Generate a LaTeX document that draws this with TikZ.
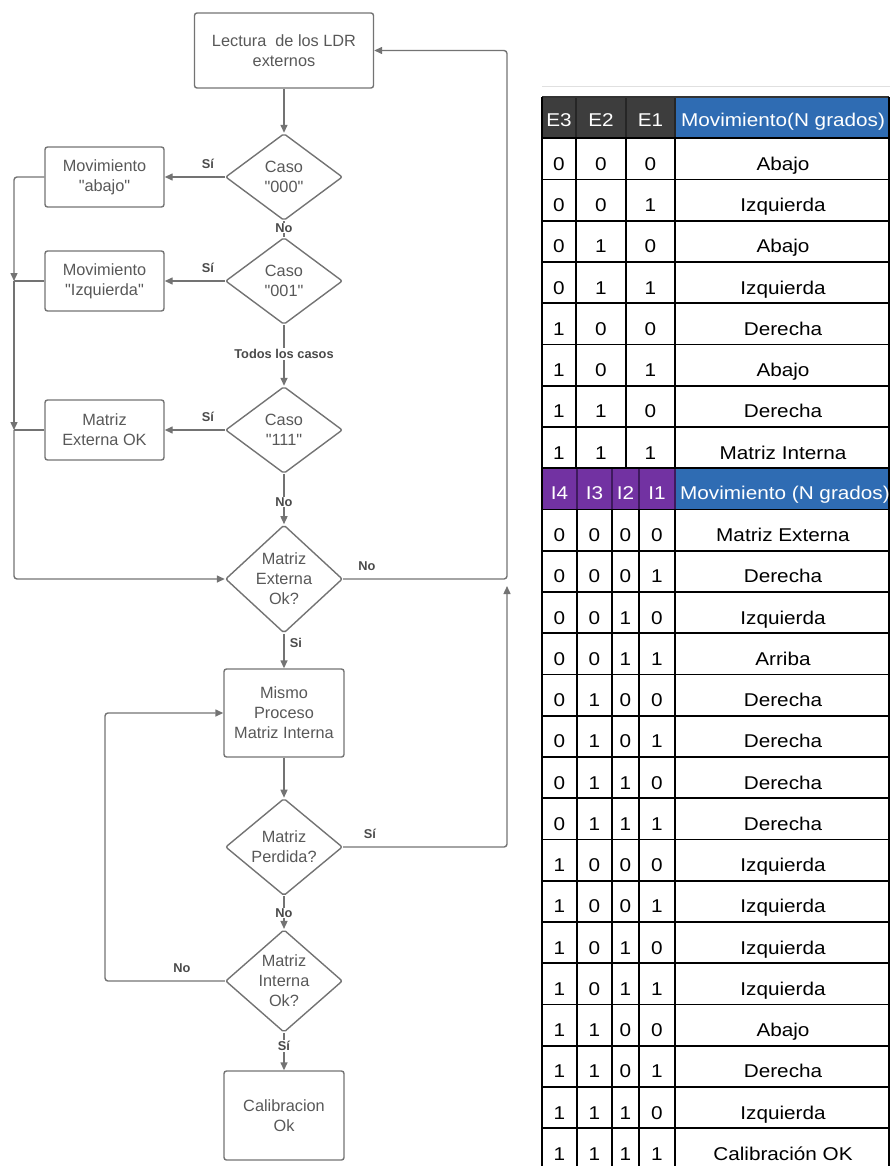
\documentclass[tikz,border=0pt]{standalone}
\usepackage{fontspec}
\setmainfont{Liberation Sans}[Ligatures=TeXOff]
\newfontfamily\tabfont[FakeStretch=1.12]{Liberation Sans}
\usetikzlibrary{shapes.geometric,arrows.meta}
\definecolor{ln}{HTML}{737373}
\definecolor{tx}{HTML}{585858}
\definecolor{lb}{HTML}{4A4A4A}
\definecolor{hdark}{HTML}{3D3D3D}
\definecolor{hblue}{HTML}{2F6CB3}
\definecolor{hpurp}{HTML}{7232A2}
\definecolor{psep}{HTML}{3E1A5E}
\begin{document}
\begin{tikzpicture}[x=1pt,y=-1pt,
  fbox/.style={draw=ln,line width=1.4pt,rounded corners=2.5pt,text=tx,align=center,font=\fontsize{16.3}{20}\selectfont,inner sep=0pt},
  fdia/.style={draw=ln,line width=1.4pt,diamond,rounded corners=2pt,minimum width=117pt,minimum height=87pt,inner sep=0pt,text=tx,align=center,font=\fontsize{16.3}{20}\selectfont},
  conn/.style={draw=ln,line width=1.4pt,rounded corners=3pt},
  arr/.style={conn,-{Triangle[width=7pt,length=8pt]}},
  lbl/.style={text=lb,font=\bfseries\fontsize{12.8}{14}\selectfont,inner sep=1pt},
  lblw/.style={lbl,fill=white},
  cell/.style={font=\tabfont\fontsize{18.5}{20}\selectfont,anchor=base,inner sep=0pt},
  hcell/.style={cell,text=white},
]
\useasboundingbox (0,0) rectangle (890,1166);
\clip (0,0) rectangle (890,1166);

% ---------------- flowchart ----------------
\node[fbox,minimum width=179pt,minimum height=75pt] (lect) at (284,50.5) {Lectura~ de los LDR\\externos};
\node[fdia] (c000) at (284,177) {Caso\\"000"};
\node[fbox,minimum width=119pt,minimum height=60pt] (abajo) at (104.5,177) {Movimiento\\"abajo"};
\node[fdia] (c001) at (284,281) {Caso\\"001"};
\node[fbox,minimum width=119pt,minimum height=60pt] (izq) at (104.5,281) {Movimiento\\"Izquierda"};
\node[fdia] (c111) at (284,430) {Caso\\"111"};
\node[fbox,minimum width=119pt,minimum height=60pt] (mext) at (104.5,430) {Matriz\\Externa OK};
\node[fdia] (meo) at (284,579) {Matriz\\Externa\\Ok?};
\node[fbox,minimum width=120pt,minimum height=88pt] (mismo) at (284,713) {Mismo\\Proceso\\Matriz Interna};
\node[fdia] (mp) at (284,847) {Matriz\\Perdida?};
\node[fdia] (mio) at (284,981) {Matriz\\Interna\\Ok?};
\node[fbox,minimum width=120pt,minimum height=89pt] (calib) at (284,1115.5) {Calibracion\\Ok};

\coordinate (j1) at (14,281);
\coordinate (j2) at (14,430);
\coordinate (j3) at (14,579);
\coordinate (r1) at (507,579);
\coordinate (r0) at (507,50.5);
\coordinate (r2) at (507,847);
\coordinate (rt) at (507,586);
\coordinate (l1) at (105,981);
\coordinate (l2) at (105,713);

\draw[arr] (lect.south) -- (c000.north);
\draw[arr] (c000.west) -- (abajo.east);
\draw[conn] (c000.south) -- (c001.north);
\draw[arr] (c001.west) -- (izq.east);
\draw[arr] (c001.south) -- (c111.north);
\draw[arr] (c111.west) -- (mext.east);
\draw[arr] (c111.south) -- (meo.north);
\draw[arr] (abajo.west) -| (j1);
\draw[conn] (izq.west) -- (j1);
\draw[arr] (j1) -- (j2);
\draw[conn] (mext.west) -- (j2);
\draw[arr] (j2) -- (j3) -- (meo.west);
\draw[arr] (meo.east) -- (r1) -- (r0) -- (lect.east);
\draw[arr] (meo.south) -- (mismo.north);
\draw[arr] (mismo.south) -- (mp.north);
\draw[arr] (mp.east) -- (r2) -- (rt);
\draw[arr] (mp.south) -- (mio.north);
\draw[arr] (mio.west) -- (l1) -- (l2) -- (mismo.west);
\draw[arr] (mio.south) -- (calib.north);

\node[lbl] (s1) at (208,164) {Sí};
\node[lblw] (n1) at (284,228) {No};
\node[lbl] (s2) at (208,268) {Sí};
\node[lblw] (t1) at (284,354) {Todos los casos};
\node[lbl] (s3) at (208,417) {Sí};
\node[lblw] (n2) at (284,502) {No};
\node[lbl] (n3) at (367,566) {No};
\node[lbl] (s4) at (296,643) {Si};
\node[lbl] (s5) at (370,834) {Sí};
\node[lblw] (n4) at (284,913) {No};
\node[lbl] (n5) at (182,968) {No};
\node[lblw] (s6) at (284,1046) {Sí};

% ---------------- table ----------------
\draw[black!12,line width=1pt] (542,86.5) -- (890,86.5);
\fill[hdark] (542,97) rectangle (675,138.25);
\fill[hblue] (675,97) rectangle (889,138.25);
\fill[hpurp] (542,468.25) rectangle (675,509.5);
\fill[hblue] (675,468.25) rectangle (889,509.5);
\draw[black!85,line width=1.6pt] (576,97) -- (576,138.25) (626,97) -- (626,138.25) (675,97) -- (675,138.25);
\draw[psep,line width=1.6pt] (577,468.25) -- (577,509.5) (612,468.25) -- (612,509.5) (639,468.25) -- (639,509.5) (675,468.25) -- (675,509.5);
\draw[black!80,line width=1.2pt] (542,97) -- (889,97);

% horizontal grid lines
\foreach \k in {1,...,26}
  \draw[black,line width=1.8pt] (542,{97+41.25*\k}) -- (889,{97+41.25*\k});
% vertical grid lines
\foreach \xx in {542,576,626,675,889}
  \draw[black,line width=1.8pt] (\xx,138.25) -- (\xx,468.25);
\foreach \xx in {542,577,612,639,675,889}
  \draw[black,line width=1.8pt] (\xx,509.5) -- (\xx,1170);
\draw[black,line width=1.8pt] (542,97) -- (542,138.25) (542,468.25) -- (542,509.5) (889,97) -- (889,138.25) (889,468.25) -- (889,509.5);

% header 1
\node[hcell] (he3) at (559,127) {E3};
\node[hcell] (he2) at (601,127) {E2};
\node[hcell] (he1) at (650.5,127) {E1};
\node[hcell,anchor=base west] (hm1) at (681,127) {Movimiento(N grados)};
% E rows
\foreach \a/\b/\c/\m [count=\i] in {0/0/0/Abajo,0/0/1/Izquierda,0/1/0/Abajo,0/1/1/Izquierda,1/0/0/Derecha,1/0/1/Abajo,1/1/0/Derecha,1/1/1/Matriz Interna}{
  \node[cell] (ea\i) at (559,{97+41.25*\i+32}) {\a};
  \node[cell] (eb\i) at (601,{97+41.25*\i+32}) {\b};
  \node[cell] (ec\i) at (650.5,{97+41.25*\i+32}) {\c};
  \node[cell] (em\i) at (783,{97+41.25*\i+32}) {\m};
}
% header 2
\node[hcell] (hi4) at (559.5,499.5) {I4};
\node[hcell] (hi3) at (594.5,499.5) {I3};
\node[hcell] (hi2) at (625.5,499.5) {I2};
\node[hcell] (hi1) at (657,499.5) {I1};
\node[hcell,anchor=base west] (hm2) at (680,499.5) {Movimiento (N grados)};
% I rows
\foreach \a/\b/\c/\d/\m [count=\i] in {0/0/0/0/Matriz Externa,0/0/0/1/Derecha,0/0/1/0/Izquierda,0/0/1/1/Arriba,0/1/0/0/Derecha,0/1/0/1/Derecha,0/1/1/0/Derecha,0/1/1/1/Derecha,1/0/0/0/Izquierda,1/0/0/1/Izquierda,1/0/1/0/Izquierda,1/0/1/1/Izquierda,1/1/0/0/Abajo,1/1/0/1/Derecha,1/1/1/0/Izquierda,1/1/1/1/Calibración OK}{
  \node[cell] (ia\i) at (559.5,{509.5+41.25*(\i-1)+32}) {\a};
  \node[cell] (ib\i) at (594.5,{509.5+41.25*(\i-1)+32}) {\b};
  \node[cell] (ic\i) at (625.5,{509.5+41.25*(\i-1)+32}) {\c};
  \node[cell] (id\i) at (657,{509.5+41.25*(\i-1)+32}) {\d};
  \node[cell] (im\i) at (783,{509.5+41.25*(\i-1)+32}) {\m};
}
\end{tikzpicture}
\end{document}
